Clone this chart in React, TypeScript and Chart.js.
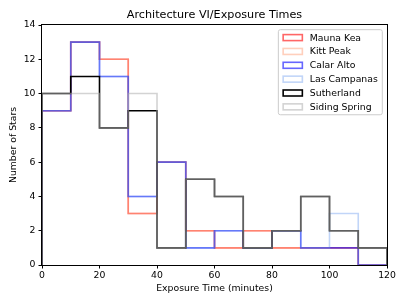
import React, { useEffect, useRef } from "react";
import { Chart, registerables } from "chart.js";

Chart.register(...registerables);

const binEdges = [0, 10, 20, 30, 40, 50, 60, 70, 80, 90, 100, 110, 120];
const seriesNames = ["Mauna Kea", "Kitt Peak", "Calar Alto", "Las Campanas", "Sutherland", "Siding Spring"];
const maunaKea = [9, 13, 12, 3, 6, 2, 1, 2, 1, 1, 1, 0];
const kittPeak = [9, 13, 12, 3, 6, 2, 1, 2, 1, 1, 1, 0];
const calarAlto = [9, 13, 11, 4, 6, 1, 2, 1, 2, 1, 1, 0];
const lasCampanas = [9, 13, 11, 4, 6, 1, 2, 1, 2, 1, 3, 0];
const sutherland = [10, 11, 8, 9, 1, 5, 4, 1, 2, 4, 2, 1];
const sidingSpring = [10, 10, 8, 10, 1, 5, 4, 1, 2, 4, 2, 1];
const seriesColors = [
  "rgba(255,0,0,0.6)",
  "rgba(255,160,122,0.5)",
  "rgba(0,0,255,0.6)",
  "rgba(100,149,237,0.4)",
  "rgba(0,0,0,1)",
  "rgba(174,174,174,0.55)",
];
const xTicks = [0, 20, 40, 60, 80, 100, 120];
const yTicks = [0, 2, 4, 6, 8, 10, 12, 14];
const titleText = "Architecture VI/Exposure Times";
const xTitle = "Exposure Time (minutes)";
const yTitle = "Number of Stars";

const FONT = '"DejaVu Sans", sans-serif';

function stepPoints(values: number[]) {
  const pts: { x: number; y: number }[] = [{ x: binEdges[0], y: 0 }];
  values.forEach((v, i) => pts.push({ x: binEdges[i], y: v }));
  pts.push({ x: binEdges[binEdges.length - 1], y: values[values.length - 1] });
  pts.push({ x: binEdges[binEdges.length - 1], y: 0 });
  return pts;
}

const framePlugin = {
  id: "mplFrame",
  afterDatasetsDraw(chart: any) {
    const { ctx, chartArea: a } = chart;
    ctx.save();
    ctx.strokeStyle = "#000";
    ctx.lineWidth = 1;
    ctx.strokeRect(Math.round(a.left) - 0.5, Math.round(a.top) - 0.5, Math.round(a.right - a.left) + 1, Math.round(a.bottom - a.top) + 1);
    ctx.restore();
  },
  afterDraw(chart: any) {
    const { ctx, chartArea: a } = chart;
    ctx.save();
    ctx.fillStyle = "#000";
    ctx.font = `11.2px ${FONT}`;
    ctx.textAlign = "center";
    ctx.textBaseline = "middle";
    ctx.fillText(titleText, (a.left + a.right) / 2, 15.5);

    const fs = 9.3;
    ctx.font = `${fs}px ${FONT}`;
    const ds = chart.data.datasets;
    let maxW = 0;
    ds.forEach((d: any) => (maxW = Math.max(maxW, ctx.measureText(d.label).width)));
    const boxRight = a.right - 4.7;
    const boxTop = a.top + 4.7;
    const boxW = maxW + 36;
    const rowH = 13.85;
    const boxH = 7.9 * 2 + rowH * (ds.length - 1);
    const boxLeft = boxRight - boxW;
    const r = 2;
    ctx.beginPath();
    ctx.moveTo(boxLeft + r, boxTop);
    ctx.lineTo(boxRight - r, boxTop);
    ctx.arcTo(boxRight, boxTop, boxRight, boxTop + r, r);
    ctx.lineTo(boxRight, boxTop + boxH - r);
    ctx.arcTo(boxRight, boxTop + boxH, boxRight - r, boxTop + boxH, r);
    ctx.lineTo(boxLeft + r, boxTop + boxH);
    ctx.arcTo(boxLeft, boxTop + boxH, boxLeft, boxTop + boxH - r, r);
    ctx.lineTo(boxLeft, boxTop + r);
    ctx.arcTo(boxLeft, boxTop, boxLeft + r, boxTop, r);
    ctx.closePath();
    ctx.fillStyle = "rgba(255,255,255,0.8)";
    ctx.fill();
    ctx.strokeStyle = "#cccccc";
    ctx.lineWidth = 1;
    ctx.stroke();
    ds.forEach((d: any, i: number) => {
      const cy = boxTop + 7.9 + i * rowH;
      ctx.strokeStyle = d.borderColor;
      ctx.lineWidth = 1.6;
      ctx.strokeRect(boxLeft + 4.8, cy - 3, 19.2, 6);
      ctx.fillStyle = "#000";
      ctx.textAlign = "left";
      ctx.textBaseline = "middle";
      ctx.fillText(d.label, boxLeft + 31.5, cy + 0.5);
    });
    ctx.restore();
  },
};

export default function App() {
  const ref = useRef<HTMLCanvasElement | null>(null);
  useEffect(() => {
    if (!ref.current) return;
    const allSeries = [maunaKea, kittPeak, calarAlto, lasCampanas, sutherland, sidingSpring];
    const chart = new Chart(ref.current, {
      type: "line",
      data: {
        datasets: allSeries.map((vals, i) => ({
          label: seriesNames[i],
          data: stepPoints(vals),
          borderColor: seriesColors[i],
          backgroundColor: "transparent",
          borderWidth: 1.6,
          pointRadius: 0,
          stepped: "before" as const,
          fill: false,
          order: allSeries.length - i,
        })),
      },
      options: {
        animation: false,
        responsive: false,
        devicePixelRatio: 1,
        layout: { padding: { top: 25, right: 20, bottom: 0, left: 0 } },
        plugins: { legend: { display: false }, title: { display: false }, tooltip: { enabled: false } },
        scales: {
          x: {
            type: "linear",
            min: 0,
            max: 120,
            afterBuildTicks: (s: any) => {
              s.ticks = xTicks.map((v) => ({ value: v }));
            },
            afterFit: (s: any) => {
              s.height = 40;
            },
            ticks: { color: "#000", font: { family: FONT, size: 9.3 }, padding: 1.5, maxRotation: 0, autoSkip: false },
            grid: { drawOnChartArea: false, drawTicks: true, tickLength: 3.5, color: "#000", lineWidth: 1 },
            border: { display: false },
            title: { display: true, text: xTitle, color: "#000", font: { family: FONT, size: 9.3 }, padding: { top: 0, bottom: 10.5 } },
          },
          y: {
            type: "linear",
            min: 0,
            max: 14,
            afterBuildTicks: (s: any) => {
              s.ticks = yTicks.map((v) => ({ value: v }));
            },
            afterFit: (s: any) => {
              s.width = 42;
            },
            ticks: { color: "#000", font: { family: FONT, size: 9.3 }, padding: 3, autoSkip: false },
            grid: { drawOnChartArea: false, drawTicks: true, tickLength: 3.5, color: "#000", lineWidth: 1 },
            border: { display: false },
            title: { display: true, text: yTitle, color: "#000", font: { family: FONT, size: 9.3 }, padding: { top: 8, bottom: 0 } },
          },
        },
      },
      plugins: [framePlugin],
    });
    return () => chart.destroy();
  }, []);
  return (
    <div style={{ position: "fixed", left: 0, top: 0, width: 407, height: 305, background: "#fff" }}>
      <canvas ref={ref} width={407} height={305} style={{ display: "block", width: 407, height: 305 }} />
    </div>
  );
}
